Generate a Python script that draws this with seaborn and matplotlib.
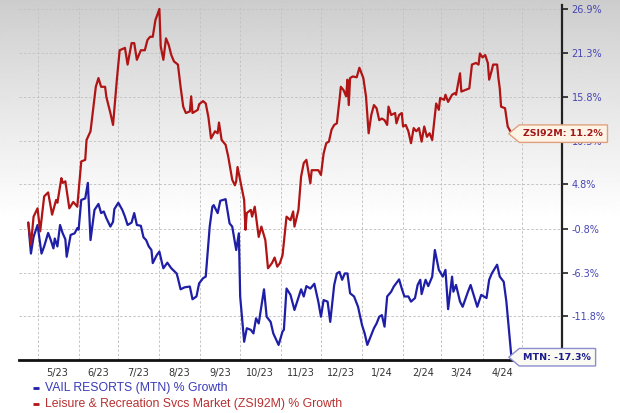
import matplotlib
matplotlib.use("Agg")
import matplotlib.pyplot as plt
import matplotlib.dates as mdates
from matplotlib.path import Path
from matplotlib.lines import Line2D
from matplotlib.ticker import FixedLocator, FuncFormatter, NullFormatter
import numpy as np
import pandas as pd
import seaborn as sns

# ---------------- data ----------------
zsi_dates = ["2023-04-24","2023-04-26","2023-04-28","2023-05-01","2023-05-03","2023-05-06","2023-05-09","2023-05-12","2023-05-15","2023-05-16",
             "2023-05-19","2023-05-20","2023-05-22","2023-05-25","2023-05-28","2023-05-31","2023-06-03","2023-06-06","2023-06-07","2023-06-10",
             "2023-06-14","2023-06-16","2023-06-18","2023-06-21","2023-06-22","2023-06-25","2023-06-27","2023-06-30","2023-07-02","2023-07-06",
             "2023-07-08","2023-07-11","2023-07-13","2023-07-15","2023-07-18","2023-07-21","2023-07-23","2023-07-25","2023-07-27","2023-07-29",
             "2023-08-01","2023-08-02","2023-08-04","2023-08-06","2023-08-08","2023-08-10","2023-08-12","2023-08-15","2023-08-17","2023-08-19",
             "2023-08-21","2023-08-24","2023-08-25","2023-08-26","2023-08-30","2023-08-31","2023-09-03","2023-09-05","2023-09-07","2023-09-09",
             "2023-09-12","2023-09-14","2023-09-15","2023-09-17","2023-09-20","2023-09-22","2023-09-25","2023-09-27","2023-09-28","2023-09-29",
             "2023-10-02","2023-10-04","2023-10-05","2023-10-06","2023-10-09","2023-10-10","2023-10-12","2023-10-15","2023-10-17","2023-10-20",
             "2023-10-22","2023-10-25","2023-10-27","2023-10-29","2023-10-31","2023-11-02","2023-11-05","2023-11-08","2023-11-10","2023-11-11",
             "2023-11-14","2023-11-16","2023-11-18","2023-11-20","2023-11-23","2023-11-24","2023-11-29","2023-12-01","2023-12-03","2023-12-05",
             "2023-12-07","2023-12-09","2023-12-11","2023-12-13","2023-12-15","2023-12-16","2023-12-18","2023-12-20","2023-12-21","2023-12-22",
             "2023-12-23","2023-12-25","2023-12-28","2023-12-30","2024-01-02","2024-01-04","2024-01-06","2024-01-08","2024-01-10","2024-01-12",
             "2024-01-14","2024-01-16","2024-01-18","2024-01-20","2024-01-21","2024-01-23","2024-01-26","2024-01-27","2024-01-29","2024-01-31",
             "2024-02-01","2024-02-03","2024-02-05","2024-02-07","2024-02-09","2024-02-11","2024-02-13","2024-02-15","2024-02-17","2024-02-19",
             "2024-02-21","2024-02-23","2024-02-26","2024-02-28","2024-02-29","2024-03-03","2024-03-04","2024-03-06","2024-03-09","2024-03-11",
             "2024-03-12","2024-03-15","2024-03-16","2024-03-19","2024-03-22","2024-03-24","2024-03-27","2024-03-29","2024-03-30","2024-04-01",
             "2024-04-03","2024-04-05","2024-04-06","2024-04-08","2024-04-09","2024-04-12","2024-04-13","2024-04-14","2024-04-15","2024-04-18",
             "2024-04-20","2024-04-23"]
zsi_values = [0.0, -2.8, 0.75, 1.8, -1.1, 3.3, 3.8, 1.0, 2.85, 2.5,
              5.6, 5.0, 5.2, 1.8, 2.6, 2.0, 7.7, 7.9, 10.4, 11.5,
              17.1, 18.2, 17.1, 17.1, 15.8, 13.8, 12.3, 18.2, 21.7, 22.0,
              19.9, 22.6, 22.6, 20.5, 21.7, 21.7, 23.0, 23.4, 23.4, 25.5,
              26.9, 22.2, 20.5, 23.2, 22.4, 21.1, 20.3, 19.9, 17.1, 14.6,
              13.8, 14.0, 15.9, 13.8, 14.2, 14.9, 15.3, 15.0, 13.3, 10.6,
              11.5, 11.25, 12.6, 10.4, 9.8, 8.3, 5.4, 4.7, 5.2, 7.0,
              4.5, 2.85, -0.9, 1.2, 1.6, 0.75, 2.0, -1.8, -0.5, -2.2,
              -5.75, -5.1, -4.4, -5.55, -5.1, -4.1, 0.75, 0.3, 1.4, -0.5,
              1.6, 5.8, 7.5, 7.9, 4.95, 6.6, 6.6, 6.0, 8.7, 10.0,
              10.2, 11.7, 12.3, 12.5, 15.45, 17.1, 16.7, 15.9, 18.0, 14.8,
              18.2, 18.4, 18.3, 19.5, 18.2, 15.9, 11.25, 13.55, 14.8, 14.4,
              12.9, 13.1, 12.9, 12.3, 14.6, 13.55, 13.8, 12.5, 13.55, 13.8,
              12.1, 12.3, 11.5, 10.0, 11.9, 11.5, 11.9, 10.2, 12.1, 10.8,
              11.25, 10.4, 15.0, 14.2, 15.7, 15.45, 16.1, 15.2, 16.1, 16.3,
              16.1, 18.8, 16.5, 16.7, 16.9, 19.9, 20.1, 19.9, 21.3, 20.8,
              21.1, 20.1, 18.0, 19.2, 19.9, 19.9, 18.2, 16.9, 14.6, 14.4,
              12.1, 11.2]

mtn_dates = ["2023-04-24","2023-04-26","2023-04-28","2023-05-01","2023-05-04","2023-05-06","2023-05-09","2023-05-11","2023-05-13","2023-05-14",
             "2023-05-16","2023-05-18","2023-05-20","2023-05-22","2023-05-23","2023-05-26","2023-05-29","2023-05-31","2023-06-01","2023-06-03",
             "2023-06-06","2023-06-08","2023-06-10","2023-06-13","2023-06-16","2023-06-18","2023-06-20","2023-06-22","2023-06-25","2023-06-27",
             "2023-06-28","2023-07-01","2023-07-04","2023-07-06","2023-07-08","2023-07-11","2023-07-13","2023-07-15","2023-07-18","2023-07-20",
             "2023-07-22","2023-07-24","2023-07-26","2023-07-27","2023-07-30","2023-08-01","2023-08-03","2023-08-04","2023-08-07","2023-08-10",
             "2023-08-14","2023-08-15","2023-08-17","2023-08-20","2023-08-24","2023-08-26","2023-08-29","2023-08-31","2023-09-03","2023-09-05",
             "2023-09-08","2023-09-10","2023-09-11","2023-09-14","2023-09-16","2023-09-20","2023-09-23","2023-09-25","2023-09-28","2023-09-30",
             "2023-10-01","2023-10-04","2023-10-06","2023-10-09","2023-10-11","2023-10-13","2023-10-15","2023-10-19","2023-10-21","2023-10-24",
             "2023-10-26","2023-10-30","2023-11-02","2023-11-03","2023-11-05","2023-11-08","2023-11-11","2023-11-13","2023-11-16","2023-11-18",
             "2023-11-20","2023-11-23","2023-11-26","2023-11-29","2023-12-01","2023-12-03","2023-12-06","2023-12-08","2023-12-11","2023-12-13",
             "2023-12-15","2023-12-17","2023-12-19","2023-12-21","2023-12-23","2023-12-26","2023-12-29","2024-01-01","2024-01-03","2024-01-05",
             "2024-01-08","2024-01-10","2024-01-12","2024-01-14","2024-01-16","2024-01-18","2024-01-20","2024-01-23","2024-01-25","2024-01-29",
             "2024-01-31","2024-02-02","2024-02-05","2024-02-07","2024-02-10","2024-02-12","2024-02-14","2024-02-15","2024-02-18","2024-02-20",
             "2024-02-23","2024-02-25","2024-02-28","2024-03-02","2024-03-04","2024-03-06","2024-03-09","2024-03-10","2024-03-12","2024-03-15",
             "2024-03-17","2024-03-21","2024-03-23","2024-03-26","2024-03-28","2024-03-31","2024-04-04","2024-04-06","2024-04-08","2024-04-12",
             "2024-04-14","2024-04-17","2024-04-19","2024-04-23"]
mtn_values = [0.0, -3.9, -1.8, -0.3, -3.9, -3.0, -1.3, -2.2, -3.25, -2.0,
              -3.0, -0.3, -1.35, -2.1, -4.3, -1.55, -1.35, -0.7, -0.9, 2.85,
              3.05, 5.0, -2.2, 1.6, 2.35, 1.2, 1.4, 0.55, -0.5, 0.1,
              1.7, 2.5, 1.6, 0.75, -0.3, 0.0, 1.2, -0.3, -0.4, -1.85,
              -2.2, -3.0, -3.45, -5.1, -4.1, -3.65, -5.1, -5.75, -5.05, -5.75,
              -6.4, -7.0, -8.4, -8.15, -8.05, -9.65, -9.3, -7.65, -7.0, -6.8,
              -0.5, 2.0, 2.2, 1.2, 2.75, 2.95, -0.1, -0.5, -3.45, -1.35,
              -9.3, -15.0, -13.3, -13.5, -13.95, -12.05, -12.7, -8.4, -11.85, -12.5,
              -13.95, -15.4, -13.7, -13.5, -8.3, -9.1, -11.0, -9.95, -8.4, -9.3,
              -8.0, -8.3, -7.7, -9.95, -11.85, -9.75, -9.95, -12.5, -7.85, -6.4,
              -6.2, -7.2, -6.4, -6.4, -8.9, -9.3, -10.6, -12.9, -13.95, -15.4,
              -14.15, -13.3, -12.7, -11.85, -11.65, -13.1, -9.3, -8.7, -8.05, -7.15,
              -8.3, -9.3, -9.3, -9.95, -9.5, -7.85, -7.2, -9.0, -7.2, -8.0,
              -6.8, -3.45, -5.95, -6.8, -5.95, -10.9, -6.8, -8.7, -7.85, -9.95,
              -10.6, -8.7, -7.85, -9.5, -10.6, -9.1, -9.5, -7.2, -6.4, -5.3,
              -6.8, -7.45, -9.95, -17.3]

y_ticks = [26.9, 21.3, 15.8, 10.3, 4.8, -0.8, -6.3, -11.8]
month_labels = ["5/23", "6/23", "7/23", "8/23", "9/23", "10/23", "11/23", "12/23",
                "1/24", "2/24", "3/24", "4/24"]
mtn_name = "VAIL RESORTS (MTN) % Growth"
zsi_name = "Leisure & Recreation Svcs Market (ZSI92M) % Growth"
mtn_tag = "MTN: -17.3%"
zsi_tag = "ZSI92M: 11.2%"

# ---------------- styling ----------------
BLUE = "#1e1ea6"
RED = "#b01414"

sns.set_style("white")
plt.rcParams['font.family'] = ['DejaVu Sans']

fig = plt.figure(figsize=(6.2, 4.13), dpi=100)
fig.patch.set_facecolor("white")

# background gradient (grey at top fading to white)
bg = fig.add_axes([0, 0, 1, 1], zorder=-10)
rows = np.arange(413)
shade = 0.80 + 0.20 * np.clip(rows / 220.0, 0, 1) ** 0.9
bg.imshow(np.repeat(shade[:, None], 2, axis=1), cmap="gray", vmin=0, vmax=1,
          aspect="auto", extent=[0, 1, 0, 1], interpolation="bilinear")
bg.axis("off")

ax = fig.add_axes([19 / 620, 53 / 413, 543 / 620, 355 / 413])
ax.patch.set_alpha(0)

df_mtn = pd.DataFrame({"date": pd.to_datetime(mtn_dates), "value": mtn_values})
df_zsi = pd.DataFrame({"date": pd.to_datetime(zsi_dates), "value": zsi_values})

sns.lineplot(data=df_mtn, x="date", y="value", color=BLUE, linewidth=1.6, ax=ax, zorder=3)
sns.lineplot(data=df_zsi, x="date", y="value", color=RED, linewidth=1.6, ax=ax, zorder=4)

ax.set_xlim(pd.Timestamp("2023-04-17"), pd.Timestamp("2024-05-31"))
ax.set_ylim(-17.3, 27.4)
ax.set_xlabel("")
ax.set_ylabel("")

# x axis: gridlines at month starts, labels mid-month
ax.xaxis.set_major_locator(mdates.MonthLocator(bymonthday=1))
ax.xaxis.set_major_formatter(NullFormatter())
label_dates = pd.date_range("2023-05-01", periods=len(month_labels), freq="MS") + pd.Timedelta(days=15)
ax.xaxis.set_minor_locator(FixedLocator(mdates.date2num(label_dates)))
ax.xaxis.set_minor_formatter(FuncFormatter(lambda v, p: month_labels[p] if p is not None and p < len(month_labels) else ""))
ax.tick_params(axis="x", which="both", length=0, labelsize=7, labelcolor="#333333", pad=6)

# y axis on the right
ax.yaxis.tick_right()
ax.set_yticks(y_ticks)
ax.set_yticklabels([f"{t:.1f}%" for t in y_ticks])
ax.tick_params(axis="y", which="major", direction="out", length=4, width=1.2,
               color="#222222", labelsize=7, labelcolor="#4646b4", pad=3)

ax.grid(True, axis="x", which="major", color="#c4c4c4", linestyle=(0, (2.5, 2)), linewidth=0.7)
ax.grid(True, axis="y", which="major", color="#c4c4c4", linestyle=(0, (2.5, 2)), linewidth=0.7)

for s in ["left", "top"]:
    ax.spines[s].set_visible(False)
ax.spines["right"].set_color("#222222")
ax.spines["right"].set_linewidth(1.6)
ax.spines["bottom"].set_color("#111111")
ax.spines["bottom"].set_linewidth(2.0)


def tag_box(x0, y0, width, height, mutation_size):
    pad = 0.45 * mutation_size
    x0 -= pad
    y0 -= pad
    w = width + 2 * pad
    h = height + 2 * pad
    tip = 0.6 * h
    verts = [(x0 - tip, y0 + h / 2), (x0, y0 + h), (x0 + w, y0 + h),
             (x0 + w, y0), (x0, y0), (x0 - tip, y0 + h / 2)]
    return Path(verts, closed=True)


end_zsi = df_zsi.iloc[-1]
end_mtn = df_mtn.iloc[-1]
ax.annotate(zsi_tag, xy=(end_zsi["date"], end_zsi["value"]), xytext=(8.5, 0),
            textcoords="offset points", ha="left", va="center", fontsize=6.8,
            fontweight="bold", color="#a01818", zorder=10, annotation_clip=False,
            bbox=dict(boxstyle=tag_box, fc="#fdf4e6", ec="#e0a080", lw=1.0))
ax.annotate(mtn_tag, xy=(end_mtn["date"], end_mtn["value"]), xytext=(8.5, 2),
            textcoords="offset points", ha="left", va="center", fontsize=6.8,
            fontweight="bold", color="#1c1c8c", zorder=10, annotation_clip=False,
            bbox=dict(boxstyle=tag_box, fc="#fafaf2", ec="#8c8cd0", lw=1.0))

# legend below the chart
for yy, col, txt, tcol in [(387.5, BLUE, mtn_name, "#3a3ab8"), (404, RED, zsi_name, "#b83030")]:
    fig.add_artist(Line2D([32.5 / 620, 39 / 620], [1 - yy / 413] * 2, color=col, lw=2.0,
                          solid_capstyle="butt", transform=fig.transFigure))
    fig.text(45.5 / 620, 1 - yy / 413, txt, color=tcol, fontsize=8.8,
             family=["Liberation Sans", "DejaVu Sans"], ha="left", va="center")

fig.savefig("out.png", dpi=100)
